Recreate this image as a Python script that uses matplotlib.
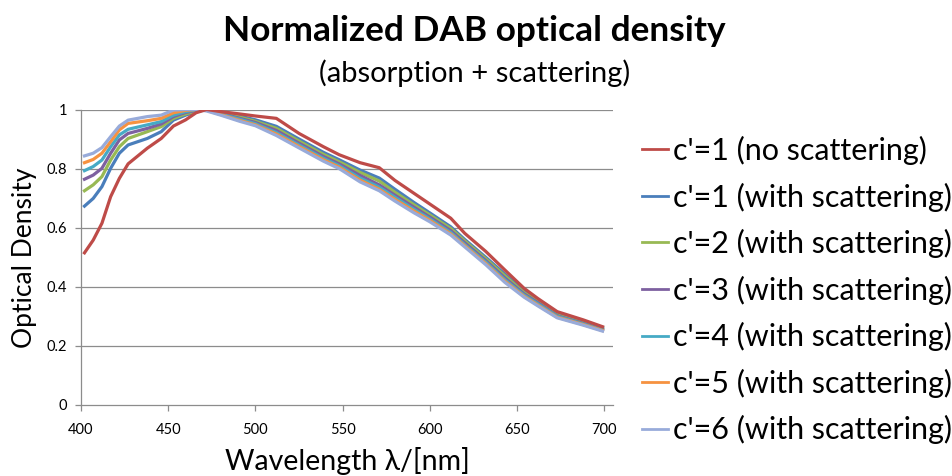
import matplotlib
matplotlib.use("Agg")
import matplotlib.pyplot as plt

plt.rcParams['font.family'] = ['Lato', 'DejaVu Sans']

# Wavelength sampling (nm)
wavelength = [402, 407, 412, 417, 422, 427, 438, 446, 453, 460, 466, 472, 480,
              491, 500, 512, 525, 539, 548, 560, 571, 580, 591, 600, 612, 620,
              632, 643, 654, 662, 673, 688, 699]

od_c1_no_scatter = [0.515, 0.558, 0.615, 0.705, 0.767, 0.816, 0.869, 0.902, 0.944,
                    0.965, 0.989, 1.000, 0.993, 0.985, 0.978, 0.970, 0.919, 0.874,
                    0.847, 0.820, 0.803, 0.760, 0.716, 0.680, 0.632, 0.581, 0.520,
                    0.457, 0.395, 0.360, 0.316, 0.288, 0.265]
od_c1 = [0.673, 0.699, 0.739, 0.801, 0.852, 0.880, 0.902, 0.925, 0.964, 0.981,
         0.992, 1.000, 0.992, 0.978, 0.965, 0.943, 0.900, 0.855, 0.830, 0.795,
         0.768, 0.730, 0.685, 0.650, 0.603, 0.560, 0.500, 0.443, 0.385, 0.355,
         0.308, 0.280, 0.262]
od_c2 = [0.725, 0.745, 0.773, 0.829, 0.874, 0.902, 0.925, 0.942, 0.970, 0.985,
         0.995, 1.000, 0.990, 0.974, 0.960, 0.936, 0.893, 0.848, 0.823, 0.787,
         0.758, 0.720, 0.677, 0.643, 0.597, 0.555, 0.495, 0.437, 0.380, 0.350,
         0.305, 0.278, 0.259]
od_c3 = [0.764, 0.778, 0.801, 0.852, 0.897, 0.919, 0.936, 0.951, 0.976, 0.990,
         0.997, 1.000, 0.987, 0.970, 0.956, 0.929, 0.886, 0.841, 0.816, 0.777,
         0.745, 0.710, 0.669, 0.636, 0.590, 0.549, 0.489, 0.430, 0.376, 0.346,
         0.302, 0.276, 0.256]
od_c4 = [0.793, 0.807, 0.829, 0.874, 0.914, 0.933, 0.948, 0.959, 0.981, 0.993,
         0.999, 0.999, 0.985, 0.967, 0.952, 0.922, 0.880, 0.835, 0.810, 0.768,
         0.737, 0.703, 0.662, 0.630, 0.584, 0.543, 0.484, 0.424, 0.372, 0.342,
         0.300, 0.274, 0.254]
od_c5 = [0.820, 0.831, 0.852, 0.891, 0.931, 0.953, 0.962, 0.970, 0.989, 0.997,
         1.000, 0.997, 0.983, 0.963, 0.948, 0.917, 0.875, 0.830, 0.805, 0.761,
         0.730, 0.696, 0.656, 0.625, 0.579, 0.539, 0.479, 0.419, 0.368, 0.338,
         0.297, 0.272, 0.252]
od_c6 = [0.843, 0.852, 0.871, 0.908, 0.944, 0.964, 0.976, 0.981, 0.998, 1.000,
         1.000, 0.995, 0.981, 0.960, 0.945, 0.912, 0.870, 0.825, 0.800, 0.755,
         0.725, 0.690, 0.650, 0.620, 0.575, 0.535, 0.475, 0.415, 0.365, 0.335,
         0.295, 0.270, 0.250]

labels = ["c'=1 (no scattering)", "c'=1 (with scattering)", "c'=2 (with scattering)",
          "c'=3 (with scattering)", "c'=4 (with scattering)", "c'=5 (with scattering)",
          "c'=6 (with scattering)"]
series = [od_c1_no_scatter, od_c1, od_c2, od_c3, od_c4, od_c5, od_c6]
colors = ["#BE4B48", "#4A7EBB", "#98B954", "#7D60A0", "#46AAC5", "#F69240", "#98ABDA"]

x_ticks = [400, 450, 500, 550, 600, 650, 700]
y_ticks = [0, 0.2, 0.4, 0.6, 0.8, 1.0]
y_tick_labels = ["0", "0.2", "0.4", "0.6", "0.8", "1"]

W, H = 952, 476
fig = plt.figure(figsize=(W / 100, H / 100), dpi=100)
ax = fig.add_axes([81 / W, 1 - 405 / H, (613 - 81) / W, (405 - 109.5) / H])

grid_color = "#8C8C8C"
for yt in y_ticks[1:]:
    ax.axhline(yt, color=grid_color, lw=0.9, zorder=1)

# Draw the scattering series first so the red curve sits on top
order = [1, 2, 3, 4, 5, 6, 0]
handles = {}
for i in order:
    (ln,) = ax.plot(wavelength, series[i], color=colors[i], lw=2.3, zorder=2,
                    solid_joinstyle="round", label=labels[i])
    handles[i] = ln

ax.set_xlim(400, 705)
ax.set_ylim(0, 1)
ax.set_xticks(x_ticks)
ax.set_yticks(y_ticks)
ax.set_yticklabels(y_tick_labels)
for s in ["top", "right"]:
    ax.spines[s].set_visible(False)
for s in ["left", "bottom"]:
    ax.spines[s].set_color(grid_color)
    ax.spines[s].set_linewidth(0.9)
ax.tick_params(axis="both", colors=grid_color, length=4, width=0.9, labelsize=10.5,
               labelcolor="black", pad=6)
ax.tick_params(axis="x", pad=9)

fig.text(347 / W, 1 - 461 / H, "Wavelength λ/[nm]", ha="center", va="center",
         fontsize=20.5)
fig.text(25 / W, 1 - 258 / H, "Optical Density", ha="center", va="center",
         fontsize=19, rotation=90)

fig.text(474 / W, 1 - 31 / H, "Normalized DAB optical density", ha="center",
         va="center", fontsize=25.4, fontweight="bold")
fig.text(475 / W, 1 - 73 / H, "(absorption + scattering)", ha="center", va="center",
         fontsize=21)

leg = fig.legend([handles[i] for i in range(7)], labels, loc="upper left",
                 bbox_to_anchor=(642 / W, 1 - 136 / H), frameon=False,
                 fontsize=22, handlelength=0.85, handletextpad=0.15, labelspacing=0.57,
                 borderaxespad=0, borderpad=0)
for lh in leg.get_lines():
    lh.set_linewidth(2.0)

fig.savefig("out.png", dpi=100)
